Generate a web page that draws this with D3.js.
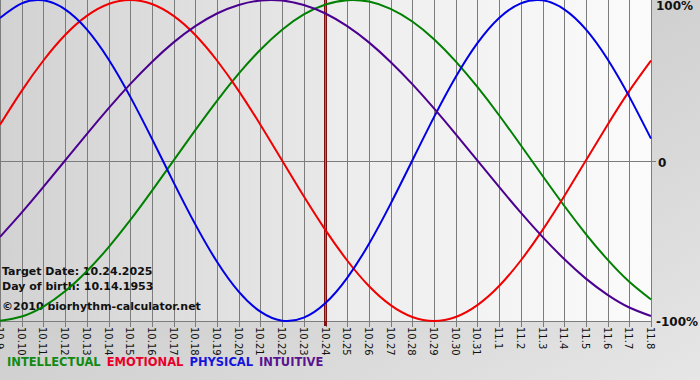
<!DOCTYPE html>
<html>
<head>
<meta charset="utf-8">
<script src="https://cdn.jsdelivr.net/npm/d3@7"></script>
<style>
  html, body { margin: 0; padding: 0; background: #d0d0d0; }
  svg { display: block; font-family: "DejaVu Sans", Verdana, sans-serif; }
</style>
</head>
<body>
<svg width="700" height="380"></svg>
<script>
// day labels, 10.9 .. 11.8
const days = ["10.9","10.10","10.11","10.12","10.13","10.14","10.15","10.16","10.17","10.18",
  "10.19","10.20","10.21","10.22","10.23","10.24","10.25","10.26","10.27","10.28",
  "10.29","10.30","10.31","11.1","11.2","11.3","11.4","11.5","11.6","11.7","11.8"];
const targetDay = "10.24";

// values, -1 .. 1
const physical = [0.888,0.979,0.998,0.942,0.817,0.631,0.398,0.136,-0.136,-0.398,-0.631,-0.817,-0.942,-0.998,
  -0.979,-0.888,-0.731,-0.520,-0.270,0,0.270,0.520,0.731,0.888,0.979,0.998,0.942,0.817,0.631,0.398,0.136];
const emotional = [0.223,0.434,0.623,0.782,0.901,0.975,1.000,0.975,0.901,0.782,0.623,0.434,0.223,0,-0.223,
  -0.434,-0.623,-0.782,-0.901,-0.975,-1.000,-0.975,-0.901,-0.782,-0.623,-0.434,-0.223,0,0.223,0.434,0.623];
const intellectual = [-0.999,-0.972,-0.910,-0.815,-0.690,-0.541,-0.372,-0.189,0,0.189,0.372,0.541,0.690,0.815,
  0.910,0.972,0.999,0.990,0.945,0.866,0.756,0.618,0.458,0.282,0.095,-0.095,-0.282,-0.458,-0.618,-0.756,-0.866];
const intuitive = [-0.476,-0.325,-0.165,0,0.165,0.325,0.476,0.614,0.736,0.837,0.916,0.969,0.997,0.997,0.969,
  0.916,0.837,0.736,0.614,0.476,0.325,0.165,0,-0.165,-0.325,-0.476,-0.614,-0.736,-0.837,-0.916,-0.969];

const yTicks = [1, 0, -1];
const yTickLabels = ["100%", "0", "-100%"];
const infoLines = ["Target Date: 10.24.2025", "Day of birth: 10.14.1953", "\u00a92010 biorhythm-calculator.net"];

const series = [
  { name: "INTELLECTUAL", values: intellectual, color: "#008000", legend: "#128a12" },
  { name: "EMOTIONAL", values: emotional, color: "#f00000", legend: "#e8002a" },
  { name: "PHYSICAL", values: physical, color: "#0000e6", legend: "#1414dc" },
  { name: "INTUITIVE", values: intuitive, color: "#4b0090", legend: "#5a1490" }
];

const plotW = 651, plotH = 321;

const svg = d3.select("svg");
const defs = svg.append("defs");

const bg = defs.append("linearGradient").attr("id", "bg").attr("x1", 0).attr("y1", 0).attr("x2", 1).attr("y2", 1);
bg.append("stop").attr("offset", 0).attr("stop-color", "#bcbcbc");
bg.append("stop").attr("offset", 1).attr("stop-color", "#e6e6e6");

const past = defs.append("linearGradient").attr("id", "past").attr("x1", 0).attr("x2", 1);
past.append("stop").attr("offset", 0).attr("stop-color", "#d2d2d2");
past.append("stop").attr("offset", 1).attr("stop-color", "#e8e8e8");

const future = defs.append("linearGradient").attr("id", "future").attr("x1", 0).attr("x2", 1);
future.append("stop").attr("offset", 0).attr("stop-color", "#ececec");
future.append("stop").attr("offset", 1).attr("stop-color", "#fbfbfb");

svg.append("rect").attr("width", 700).attr("height", 380).attr("fill", "url(#bg)");

const x = d3.scalePoint().domain(days).range([0, plotW]);
const y = d3.scaleLinear().domain([-1, 1]).range([plotH, 0]);

const g = svg.append("g");

// backgrounds before / after target date
g.append("rect").attr("x", 0).attr("y", 0)
  .attr("width", x(targetDay)).attr("height", plotH).attr("fill", "url(#past)");
g.append("rect").attr("x", x(targetDay)).attr("y", 0)
  .attr("width", plotW - x(targetDay)).attr("height", plotH).attr("fill", "url(#future)");

// vertical grid + ticks
g.selectAll(".vgrid")
  .data(days)
  .join("line")
  .attr("class", "vgrid")
  .attr("x1", d => Math.round(x(d)) + 0.5)
  .attr("x2", d => Math.round(x(d)) + 0.5)
  .attr("y1", 0)
  .attr("y2", plotH + 6)
  .attr("stroke", "#7c7c7c")
  .attr("stroke-width", 1);

// horizontal lines
g.selectAll(".hgrid")
  .data(yTicks)
  .join("line")
  .attr("class", "hgrid")
  .attr("x1", 0)
  .attr("x2", d => d === 0 ? plotW + 5 : plotW)
  .attr("y1", d => Math.round(y(d)) + 0.5)
  .attr("y2", d => Math.round(y(d)) + 0.5)
  .attr("stroke", "#7c7c7c")
  .attr("stroke-width", d => d === 1 ? 0 : 1);

// target date marker
g.append("line")
  .attr("x1", x(targetDay)).attr("x2", x(targetDay))
  .attr("y1", 0).attr("y2", plotH + 5)
  .attr("stroke", "#7a1010")
  .attr("stroke-width", 3);
g.append("line")
  .attr("x1", x(targetDay)).attr("x2", x(targetDay))
  .attr("y1", 0).attr("y2", plotH)
  .attr("stroke", "#c06060")
  .attr("stroke-width", 1);

// info text (drawn under the curves)
g.selectAll(".info")
  .data(infoLines)
  .join("text")
  .attr("class", "info")
  .attr("x", 2)
  .attr("y", (d, i) => [275, 290, 310][i])
  .attr("font-size", 11)
  .attr("font-weight", "bold")
  .attr("fill", "#111")
  .text(d => d);

const line = d3.line()
  .x((d, i) => x(days[i]))
  .y(d => y(d))
  .curve(d3.curveNatural);

g.selectAll(".curve")
  .data(series)
  .join("path")
  .attr("class", "curve")
  .attr("fill", "none")
  .attr("stroke", d => d.color)
  .attr("stroke-width", 2)
  .attr("d", d => line(d.values));

// x labels, rotated to read downward
g.selectAll(".xlabel")
  .data(days)
  .join("text")
  .attr("class", "xlabel")
  .attr("transform", d => `translate(${x(d) - 4},${plotH + 6}) rotate(90)`)
  .attr("font-size", 10)
  .attr("fill", "#111")
  .text(d => d);

// y labels on the right
g.selectAll(".ylabel")
  .data(yTicks)
  .join("text")
  .attr("class", "ylabel")
  .attr("x", d => d === 0 ? 658 : 656)
  .attr("y", d => y(d) + 4)
  .attr("dy", d => d === 1 ? 6 : (d === -1 ? 1 : 2))
  .attr("font-size", 12)
  .attr("font-weight", "bold")
  .attr("fill", "#111")
  .text((d, i) => yTickLabels[i]);

// legend
const legend = svg.append("text")
  .attr("x", 7)
  .attr("y", 366)
  .attr("font-size", 11.5)
  .attr("font-weight", "bold");
legend.selectAll("tspan")
  .data(series)
  .join("tspan")
  .attr("fill", d => d.legend)
  .attr("dx", (d, i) => i ? 6 : 0)
  .text(d => d.name);
</script>
</body>
</html>
